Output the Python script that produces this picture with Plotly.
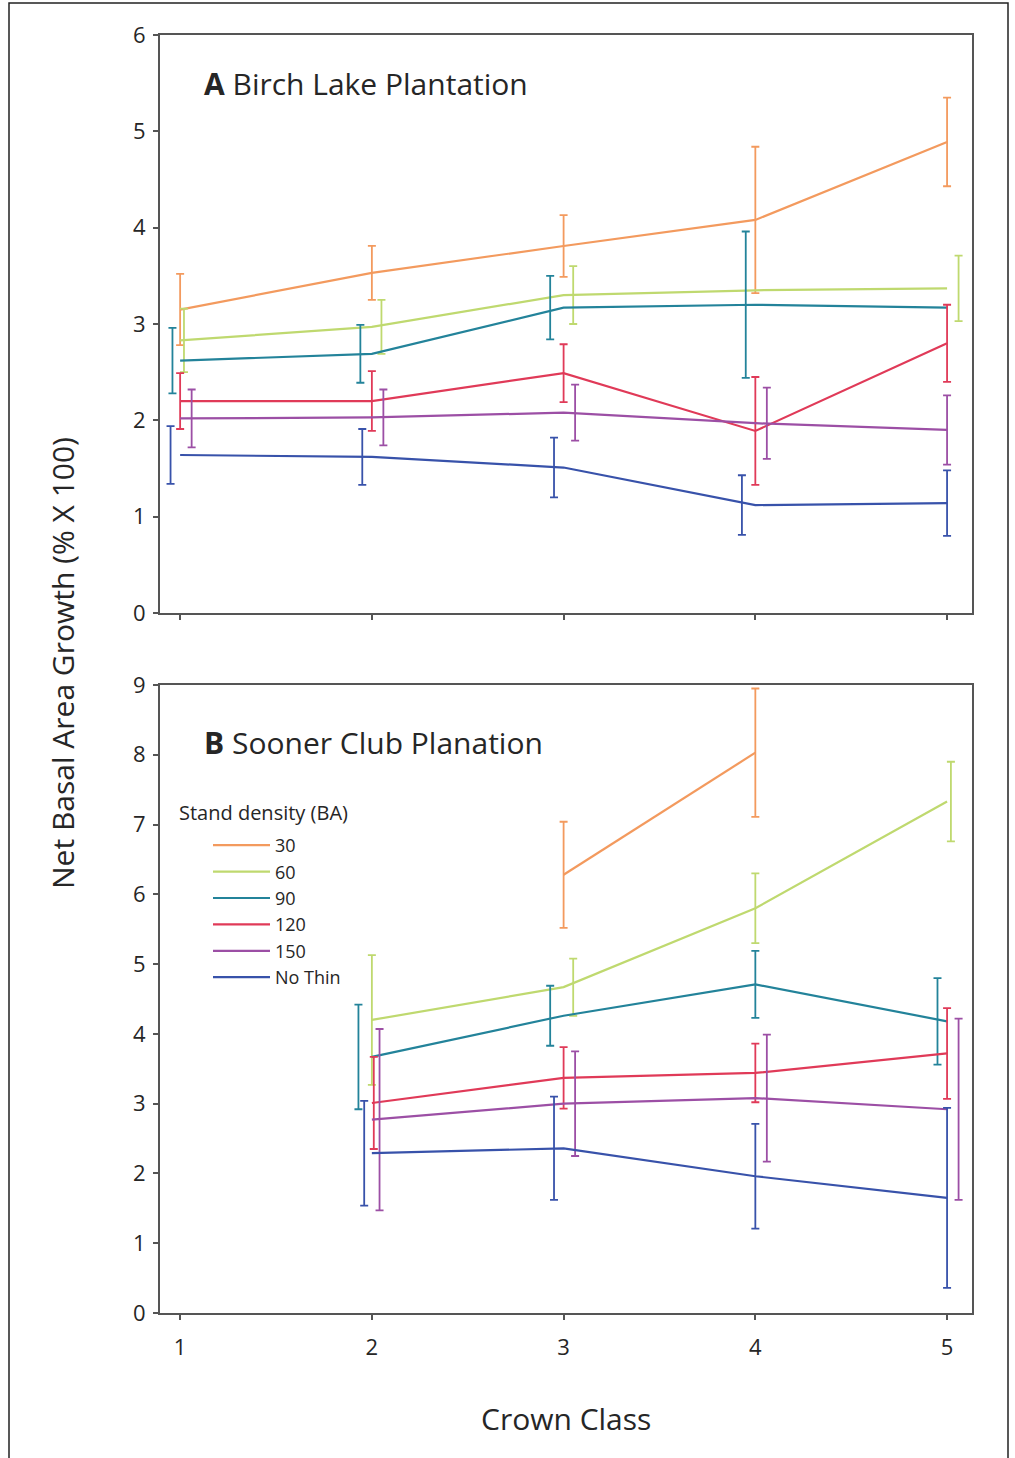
import plotly.graph_objects as go

# ---------------- data ----------------
crown_class = [1, 2, 3, 4, 5]
series_names = ["30", "60", "90", "120", "150", "No Thin"]

# Panel A: Birch Lake Plantation (mean, error half-width)
a_30 = [3.15, 3.53, 3.81, 4.08, 4.89]
a_30_err = [0.37, 0.28, 0.32, 0.76, 0.46]
a_60 = [2.83, 2.97, 3.30, 3.35, 3.37]
a_60_err = [0.33, 0.28, 0.30, None, 0.34]
a_90 = [2.62, 2.69, 3.17, 3.20, 3.17]
a_90_err = [0.34, 0.30, 0.33, 0.76, None]
a_120 = [2.20, 2.20, 2.49, 1.89, 2.80]
a_120_err = [0.29, 0.31, 0.30, 0.56, 0.40]
a_150 = [2.02, 2.03, 2.08, 1.97, 1.90]
a_150_err = [0.30, 0.29, 0.29, 0.37, 0.36]
a_nothin = [1.64, 1.62, 1.51, 1.12, 1.14]
a_nothin_err = [0.30, 0.29, 0.31, 0.31, 0.34]

# Panel B: Sooner Club Planation
b_30 = [None, None, 6.28, 8.03, None]
b_30_err = [None, None, 0.76, 0.92, None]
b_60 = [None, 4.20, 4.67, 5.80, 7.33]
b_60_err = [None, 0.93, 0.41, 0.50, 0.57]
b_90 = [None, 3.67, 4.26, 4.71, 4.18]
b_90_err = [None, 0.75, 0.43, 0.48, 0.62]
b_120 = [None, 3.01, 3.37, 3.44, 3.72]
b_120_err = [None, 0.66, 0.44, 0.42, 0.65]
b_150 = [None, 2.77, 3.00, 3.08, 2.92]
b_150_err = [None, 1.30, 0.75, 0.91, 1.30]
b_nothin = [None, 2.29, 2.36, 1.96, 1.65]
b_nothin_err = [None, 0.75, 0.74, 0.75, 1.29]

panel_a = [a_30, a_60, a_90, a_120, a_150, a_nothin]
panel_a_err = [a_30_err, a_60_err, a_90_err, a_120_err, a_150_err, a_nothin_err]
panel_b = [b_30, b_60, b_90, b_120, b_150, b_nothin]
panel_b_err = [b_30_err, b_60_err, b_90_err, b_120_err, b_150_err, b_nothin_err]

# ---------------- style ----------------
colors = ["#F39A5E", "#BFD96F", "#23839A", "#E03A58", "#9C4FA5", "#3852AA"]
# horizontal dodge of the error bars (crown-class units)
dodge_a = [
    [0.0, 0.0, 0.0, 0.0, 0.0],
    [0.02, 0.05, 0.05, 0.05, 0.06],
    [-0.04, -0.06, -0.07, -0.05, 0.0],
    [0.0, 0.0, 0.0, 0.0, 0.0],
    [0.06, 0.06, 0.06, 0.06, 0.0],
    [-0.05, -0.05, -0.05, -0.07, 0.0],
]
dodge_b = [
    [0.0, 0.0, 0.0, 0.0, 0.0],
    [0.0, 0.0, 0.05, 0.0, 0.02],
    [0.0, -0.07, -0.07, 0.0, -0.05],
    [0.0, 0.01, 0.0, 0.0, 0.0],
    [0.0, 0.04, 0.06, 0.06, 0.06],
    [0.0, -0.04, -0.05, 0.0, 0.0],
]

W, H = 1015, 1458
FONT = "Open Sans"
TXT = "#262626"
AXC = "#555555"

fig = go.Figure()


def add_panel(values, errs, dodges, xa, ya, legend):
    for name, col, v, e, d in zip(series_names, colors, values, errs, dodges):
        fig.add_trace(go.Scatter(
            x=crown_class, y=v, mode="lines", name=name,
            line=dict(color=col, width=2.2), connectgaps=False,
            xaxis=xa, yaxis=ya, showlegend=legend, hoverinfo="skip",
        ))
        ex, ey, ee = [], [], []
        for c, val, er, dd in zip(crown_class, v, e, d):
            if val is None or er is None:
                continue
            ex.append(c + dd)
            ey.append(val)
            ee.append(er)
        fig.add_trace(go.Scatter(
            x=ex, y=ey, mode="markers", marker=dict(size=1, color=col, opacity=0),
            error_y=dict(type="data", array=ee, symmetric=True, color=col,
                         thickness=1.8, width=4),
            xaxis=xa, yaxis=ya, showlegend=False, hoverinfo="skip",
        ))


add_panel(panel_a, panel_a_err, dodge_a, "x", "y", False)
add_panel(panel_b, panel_b_err, dodge_b, "x2", "y2", True)

xdom = [160 / W, 972 / W]
ya_dom = [1 - 613 / H, 1 - 35 / H]
yb_dom = [1 - 1313 / H, 1 - 685 / H]
xrange = [0.895, 5.13]

axis_common = dict(showline=True, linecolor=AXC, linewidth=2, mirror=True,
                   ticks="outside", ticklen=5, tickcolor=AXC, tickwidth=1.5,
                   showgrid=False, zeroline=False, automargin=False,
                   tickfont=dict(family=FONT, size=22, color=TXT))

fig.update_layout(
    width=W, height=H,
    margin=dict(l=0, r=0, t=0, b=0, pad=0, autoexpand=False),
    paper_bgcolor="white", plot_bgcolor="white",
    font=dict(family=FONT, color=TXT),
    xaxis=dict(domain=xdom, range=xrange, anchor="y", tickvals=crown_class,
               showticklabels=False, **axis_common),
    yaxis=dict(domain=ya_dom, range=[0, 6], anchor="x", tickvals=[0, 1, 2, 3, 4, 5, 6],
               ticklabelstandoff=3, **axis_common),
    xaxis2=dict(domain=xdom, range=xrange, anchor="y2", tickvals=crown_class,
                ticklabelstandoff=9, **axis_common),
    yaxis2=dict(domain=yb_dom, range=[0, 9], anchor="x2",
                tickvals=list(range(10)), ticklabelstandoff=3, **axis_common),
    legend=dict(
        x=208 / W, y=1 - 827 / H, xanchor="left", yanchor="top",
        bgcolor="rgba(0,0,0,0)",
        font=dict(family=FONT, size=18, color=TXT),
        tracegroupgap=0, itemwidth=57,
    ),
    showlegend=True,
)

fig.add_annotation(x=177 / W, y=1 - 813 / H, xref="paper", yref="paper",
                   xanchor="left", yanchor="middle", showarrow=False,
                   text="Stand density (BA)",
                   font=dict(family=FONT, size=20, color=TXT))
fig.add_annotation(x=202 / W, y=1 - 84 / H, xref="paper", yref="paper",
                   xanchor="left", yanchor="middle", showarrow=False,
                   text="<b>A</b> Birch Lake Plantation",
                   font=dict(family=FONT, size=30, color=TXT))
fig.add_annotation(x=202 / W, y=1 - 742 / H, xref="paper", yref="paper",
                   xanchor="left", yanchor="middle", showarrow=False,
                   text="<b>B</b> Sooner Club Planation",
                   font=dict(family=FONT, size=30, color=TXT))
fig.add_annotation(x=62 / W, y=1 - 663 / H, xref="paper", yref="paper",
                   xanchor="center", yanchor="middle", showarrow=False,
                   textangle=-90, text="Net Basal Area Growth (% X 100)",
                   font=dict(family=FONT, size=30, color=TXT))
fig.add_annotation(x=566 / W, y=1 - 1418 / H, xref="paper", yref="paper",
                   xanchor="center", yanchor="middle", showarrow=False,
                   text="Crown Class",
                   font=dict(family=FONT, size=30, color=TXT))

# outer frame
fig.add_shape(type="rect", xref="paper", yref="paper",
              x0=9 / W, x1=1008 / W, y0=-0.05, y1=1 - 3 / H,
              line=dict(color="#222222", width=1.5))

fig.write_html("out.html")
